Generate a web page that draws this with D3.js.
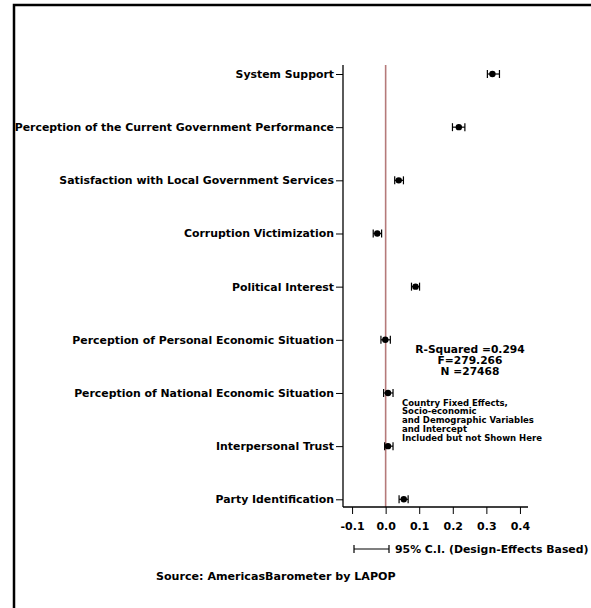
<!DOCTYPE html>
<html>
<head>
<meta charset="utf-8">
<script src="https://cdn.jsdelivr.net/npm/d3@7/dist/d3.min.js"></script>
<style>
  html, body { margin: 0; padding: 0; background: #fff; }
  svg { display: block; font-family: "DejaVu Sans", sans-serif; font-weight: bold; }
</style>
</head>
<body>
<svg id="chart" width="591" height="608"></svg>
<script>
// Regression coefficients with 95% confidence intervals
const variables = [
  "System Support",
  "Perception of the Current Government Performance",
  "Satisfaction with Local Government Services",
  "Corruption Victimization",
  "Political Interest",
  "Perception of Personal Economic Situation",
  "Perception of National Economic Situation",
  "Interpersonal Trust",
  "Party Identification"
];
const coefficients = [0.318, 0.218, 0.039, -0.025, 0.089, -0.001, 0.007, 0.007, 0.054];
const ciLower      = [0.303, 0.199, 0.027, -0.037, 0.077, -0.014, -0.006, -0.003, 0.040];
const ciUpper      = [0.339, 0.236, 0.053, -0.012, 0.101, 0.014, 0.022, 0.022, 0.067];
const xTicks = [-0.1, 0.0, 0.1, 0.2, 0.3, 0.4];
const xTickLabels = ["-0.1", "0.0", "0.1", "0.2", "0.3", "0.4"];
const fitStats = ["R-Squared =0.294", "F=279.266", "N =27468"];
const noteLines = [
  "Country Fixed Effects,",
  "Socio-economic",
  "and Demographic Variables",
  "and Intercept",
  "Included but not Shown Here"
];
const legendLabel = "95% C.I. (Design-Effects Based)";
const sourceLabel = "Source: AmericasBarometer by LAPOP";

const FONT = "DejaVu Sans, sans-serif";
const svg = d3.select("#chart");

// outer frame (extends past the canvas on right and bottom)
svg.append("rect")
  .attr("x", 14).attr("y", 5)
  .attr("width", 700).attr("height", 700)
  .attr("fill", "none").attr("stroke", "#000").attr("stroke-width", 2.5);

const plot = { left: 343, right: 528, top: 65, bottom: 507 };

const x = d3.scaleLinear().domain([-0.127, 0.424]).range([plot.left, plot.right]);
const y = d3.scalePoint().domain(variables).range([74, 499.3]);

const rows = variables.map((v, i) => ({
  name: v, b: coefficients[i], lo: ciLower[i], hi: ciUpper[i]
}));

// zero reference line
svg.append("line")
  .attr("x1", x(0)).attr("x2", x(0))
  .attr("y1", plot.top).attr("y2", plot.bottom)
  .attr("stroke", "#b57a7a").attr("stroke-width", 1.6);

// y axis
const yAxis = svg.append("g")
  .attr("transform", `translate(${plot.left},0)`)
  .call(d3.axisLeft(y).tickSize(7).tickPadding(2).tickSizeOuter(0));
yAxis.select(".domain").remove();
yAxis.append("line")
  .attr("x1", 0).attr("x2", 0).attr("y1", plot.top).attr("y2", plot.bottom)
  .attr("stroke", "#000").attr("stroke-width", 1.3);
yAxis.selectAll(".tick line").attr("stroke-width", 1);
yAxis.selectAll(".tick text")
  .attr("font-size", 10.9).attr("font-weight", "bold")
  .attr("font-family", FONT).attr("fill", "#000");

// x axis
const xAxis = svg.append("g")
  .attr("transform", `translate(0,${plot.bottom})`)
  .call(d3.axisBottom(x).tickValues(xTicks)
    .tickFormat((d, i) => xTickLabels[i]).tickSize(7).tickPadding(8).tickSizeOuter(0));
xAxis.select(".domain").remove();
xAxis.append("line")
  .attr("x1", plot.left).attr("x2", plot.right).attr("y1", 0).attr("y2", 0)
  .attr("stroke", "#000").attr("stroke-width", 1.3);
xAxis.selectAll(".tick text")
  .attr("font-size", 11).attr("font-weight", "bold")
  .attr("font-family", FONT).attr("fill", "#000");

// confidence intervals and point estimates
const marks = svg.append("g");
const cap = 4;
marks.selectAll("line.ci").data(rows).join("line")
  .attr("class", "ci")
  .attr("x1", d => x(d.lo)).attr("x2", d => x(d.hi))
  .attr("y1", d => y(d.name)).attr("y2", d => y(d.name))
  .attr("stroke", "#000").attr("stroke-width", 1.2);
marks.selectAll("line.capl").data(rows).join("line")
  .attr("class", "capl")
  .attr("x1", d => x(d.lo)).attr("x2", d => x(d.lo))
  .attr("y1", d => y(d.name) - cap).attr("y2", d => y(d.name) + cap)
  .attr("stroke", "#000").attr("stroke-width", 1.2);
marks.selectAll("line.capr").data(rows).join("line")
  .attr("class", "capr")
  .attr("x1", d => x(d.hi)).attr("x2", d => x(d.hi))
  .attr("y1", d => y(d.name) - cap).attr("y2", d => y(d.name) + cap)
  .attr("stroke", "#000").attr("stroke-width", 1.2);
marks.selectAll("circle").data(rows).join("circle")
  .attr("cx", d => x(d.b)).attr("cy", d => y(d.name)).attr("r", 3.2)
  .attr("fill", "#000");

// model fit statistics
svg.append("g").selectAll("text").data(fitStats).join("text")
  .attr("x", 470).attr("y", (d, i) => 353 + i * 11)
  .attr("text-anchor", "middle").attr("font-size", 10.7).attr("fill", "#000")
  .text(d => d);

// note on omitted covariates
svg.append("g").selectAll("text").data(noteLines).join("text")
  .attr("x", 402).attr("y", (d, i) => 405.5 + i * 8.8)
  .attr("font-size", 8.5).attr("fill", "#000")
  .text(d => d);

// legend for the CI whisker
const lg = svg.append("g");
const legY = 549;
lg.append("line").attr("x1", 354).attr("x2", 389).attr("y1", legY).attr("y2", legY)
  .attr("stroke", "#000").attr("stroke-width", 1.2);
lg.append("line").attr("x1", 354).attr("x2", 354).attr("y1", legY - 4).attr("y2", legY + 4)
  .attr("stroke", "#000").attr("stroke-width", 1.2);
lg.append("line").attr("x1", 389).attr("x2", 389).attr("y1", legY - 4).attr("y2", legY + 4)
  .attr("stroke", "#000").attr("stroke-width", 1.2);
lg.append("text").attr("x", 395).attr("y", legY + 4)
  .attr("font-size", 10.9).attr("fill", "#000").text(legendLabel);

// source note
svg.append("text").attr("x", 156).attr("y", 580)
  .attr("font-size", 11.1).attr("fill", "#000").text(sourceLabel);
</script>
</body>
</html>
